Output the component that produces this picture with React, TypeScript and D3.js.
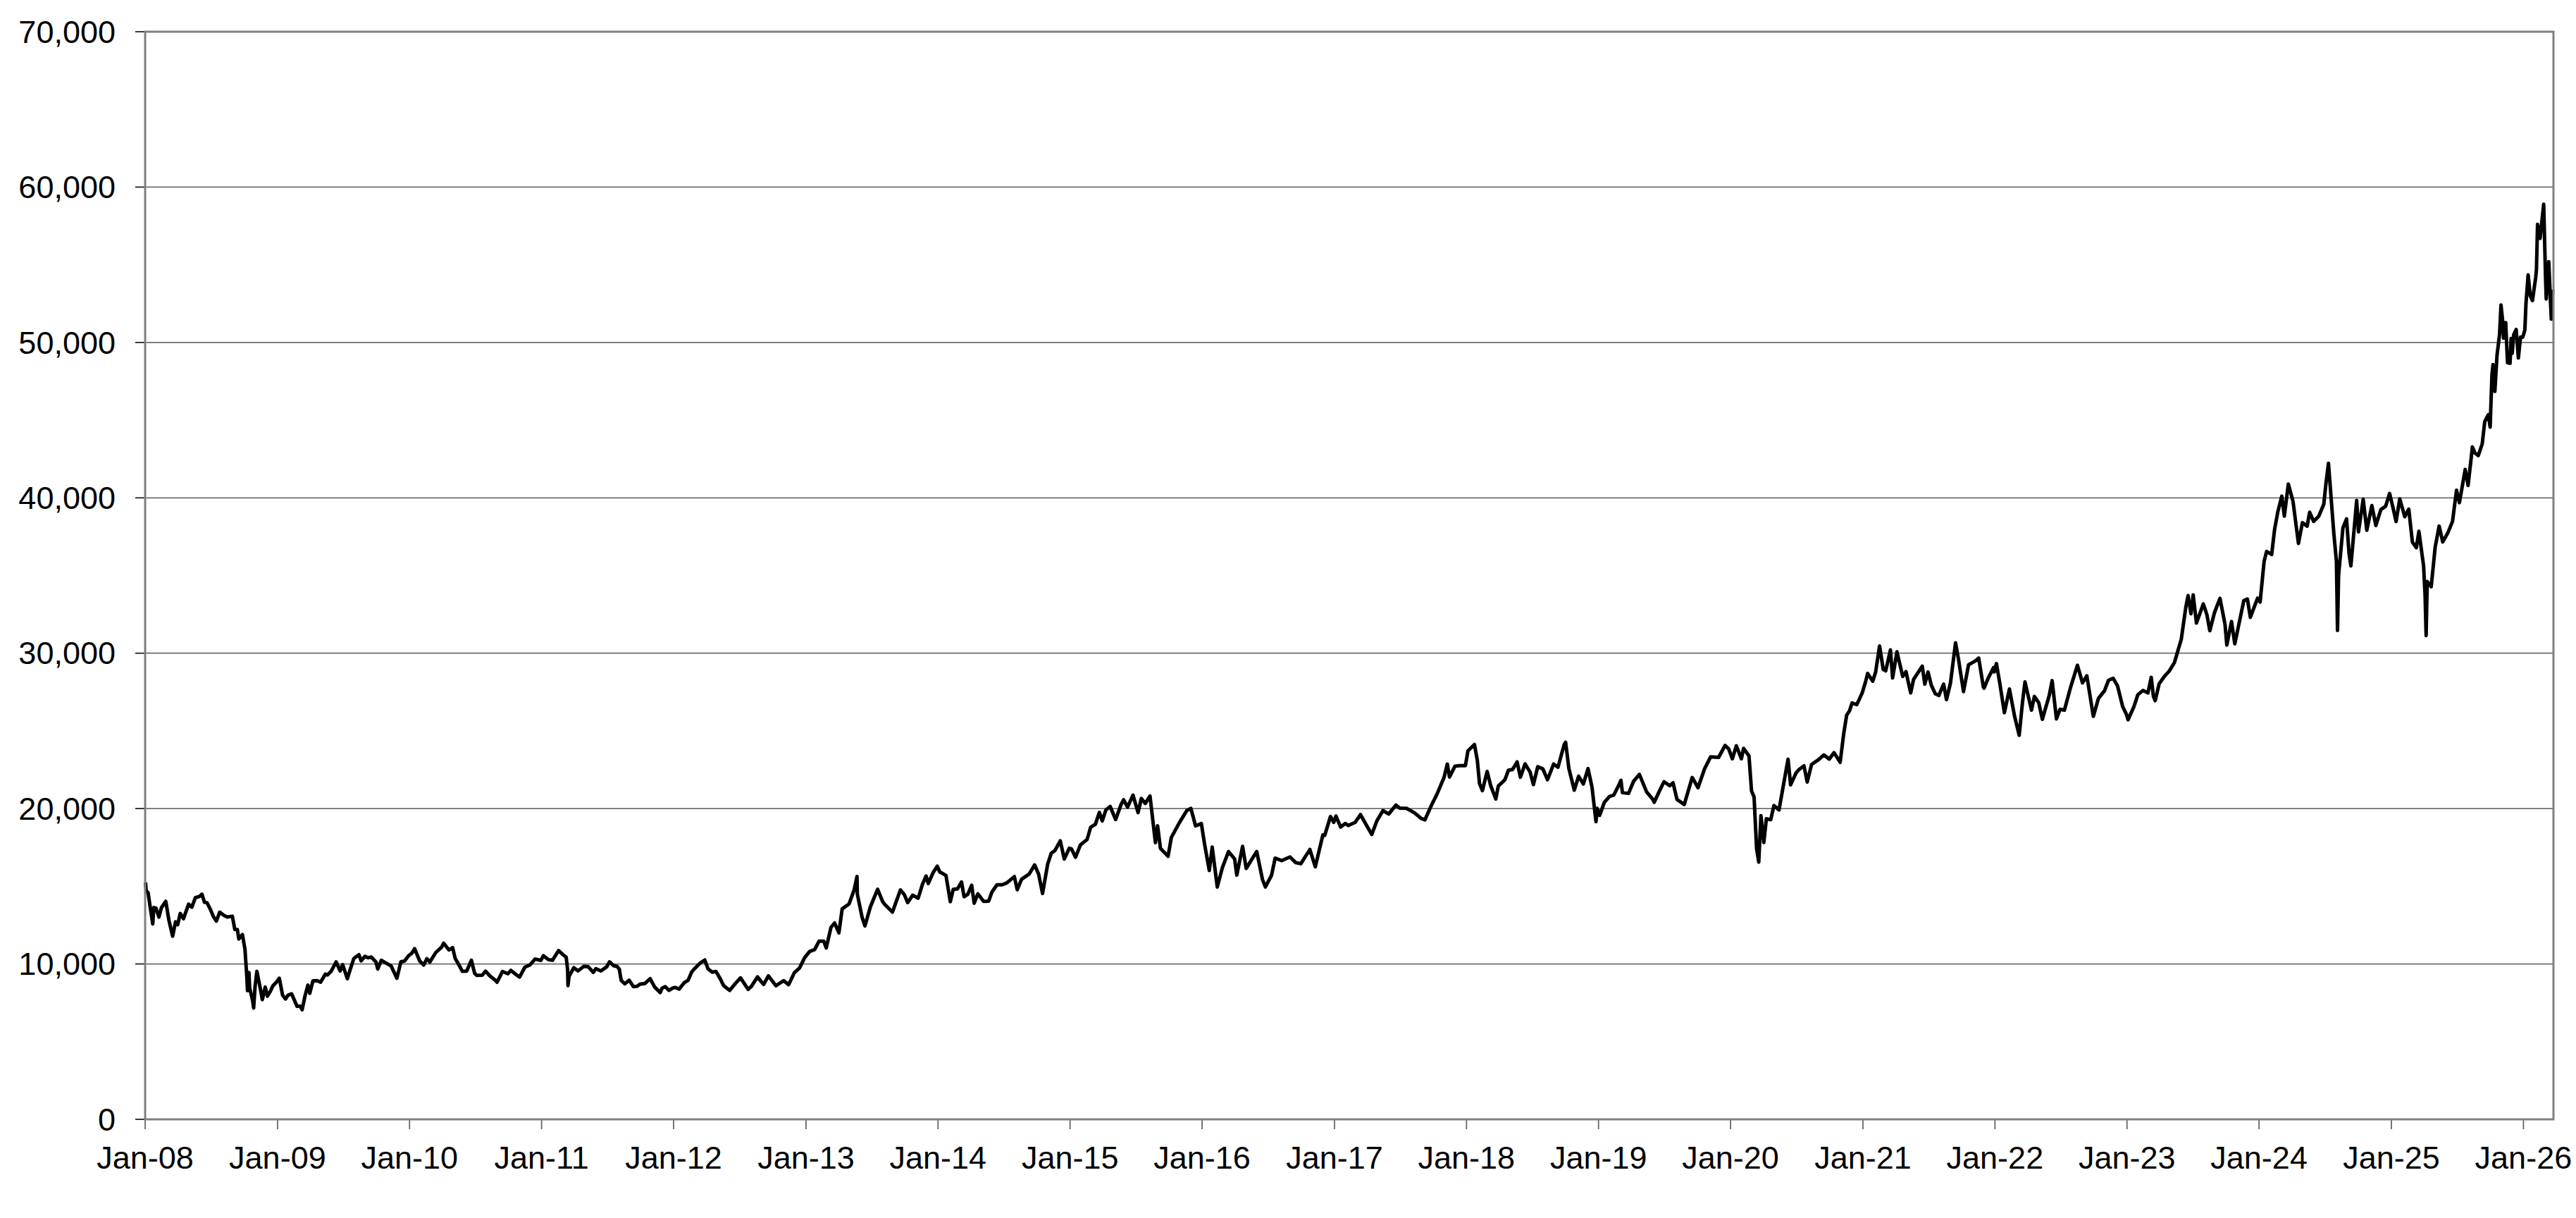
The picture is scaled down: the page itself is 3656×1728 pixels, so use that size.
// @ts-nocheck
import * as d3 from "d3";

// index closes, one list per year: [month-day, value]
const y2008 = [["01-02",15250],["01-04",14691],["01-09",14600],["01-16",13504],["01-22",12573],["01-25",13629],["01-31",13592],["02-08",13017],["02-15",13622],["02-27",14031],["03-07",12783],["03-17",11787],["03-25",12709],["03-31",12525],["04-07",13250],["04-16",12911],["04-30",13849],["05-09",13655],["05-19",14269],["05-30",14338],["06-06",14489],["06-13",13973],["06-20",13942],["06-30",13481],["07-08",13033],["07-16",12760],["07-25",13334],["08-06",13124],["08-15",13019],["08-29",13072],["09-05",12212],["09-12",12214],["09-16",11609],["09-26",11893],["10-03",10938],["10-08",9203],["10-10",8276],["10-14",9447],["10-16",8458],["10-24",7649],["10-27",7162],["10-31",8576],["11-05",9521],["11-14",8462],["11-20",7703],["11-28",8512],["12-04",7924],["12-12",8235],["12-19",8588],["12-30",8859]];
const y2009 = [["01-06",9080],["01-15",7982],["01-23",7745],["01-30",7994],["02-09",8077],["02-17",7645],["02-24",7268],["03-04",7290],["03-10",7054],["03-18",7945],["03-26",8636],["03-31",8109],["04-09",8917],["04-20",8924],["04-30",8828],["05-13",9340],["05-19",9290],["05-29",9523],["06-12",10135],["06-23",9549],["06-30",9958],["07-13",9050],["07-22",9723],["07-31",10357],["08-14",10598],["08-20",10205],["08-31",10492],["09-08",10393],["09-17",10443],["09-30",10133],["10-05",9674],["10-15",10238],["10-30",10034],["11-11",9872],["11-27",9081],["12-08",10140],["12-18",10183],["12-30",10546]];
const y2010 = [["01-07",10681],["01-15",10982],["01-29",10198],["02-09",9932],["02-18",10335],["02-26",10126],["03-15",10751],["03-31",11089],["04-05",11339],["04-20",10900],["04-30",11057],["05-07",10364],["05-21",9784],["05-27",9522],["06-08",9538],["06-21",10238],["06-30",9382],["07-06",9266],["07-21",9278],["07-30",9537],["08-12",9212],["08-24",8996],["08-31",8824],["09-15",9516],["09-30",9369],["10-08",9589],["10-19",9381],["11-01",9154],["11-16",9797],["11-30",9937],["12-14",10316],["12-30",10229]];
const y2011 = [["01-06",10529],["01-20",10274],["01-31",10237],["02-10",10606],["02-17",10857],["02-28",10624],["03-10",10434],["03-14",9620],["03-15",8605],["03-18",9206],["03-31",9755],["04-12",9555],["04-28",9849],["05-10",9819],["05-24",9460],["05-31",9693],["06-14",9547],["06-30",9816],["07-08",10137],["07-19",9889],["07-29",9833],["08-04",9659],["08-09",8944],["08-19",8719],["08-31",8955],["09-12",8535],["09-22",8560],["09-30",8700],["10-14",8747],["10-28",9050],["11-10",8500],["11-25",8160],["11-30",8434],["12-09",8536],["12-19",8296],["12-30",8455]];
const y2012 = [["01-05",8488],["01-16",8378],["01-31",8803],["02-10",8947],["02-20",9485],["02-29",9723],["03-14",10050],["03-27",10255],["04-05",9688],["04-17",9470],["04-27",9520],["05-09",9045],["05-18",8611],["06-04",8296],["06-20",8752],["07-04",9104],["07-25",8366],["08-03",8555],["08-20",9171],["08-31",8840],["09-06",8680],["09-19",9232],["10-10",8596],["10-31",8928],["11-14",8665],["11-30",9446],["12-14",9737],["12-28",10395]];
const y2013 = [["01-11",10801],["01-25",10926],["02-06",11463],["02-19",11468],["02-26",11028],["03-11",12349],["03-21",12635],["04-02",12003],["04-11",13549],["04-30",13861],["05-14",14758],["05-22",15627],["05-23",14484],["06-05",13014],["06-13",12445],["06-28",13677],["07-18",14808],["08-01",14005],["08-07",13825],["08-28",13338],["09-19",14766],["09-30",14456],["10-09",13949],["10-23",14426],["11-07",14229],["11-19",15127],["11-29",15662],["12-05",15178],["12-18",15859],["12-30",16291]];
const y2014 = [["01-06",15908],["01-15",15809],["01-23",15695],["02-04",14008],["02-12",14800],["02-24",14837],["03-07",15275],["03-14",14327],["03-24",14475],["04-04",15063],["04-11",13910],["04-21",14512],["05-07",14033],["05-21",14043],["05-30",14632],["06-13",15097],["06-27",15095],["07-10",15216],["07-31",15621],["08-08",14778],["08-20",15454],["09-10",15788],["09-25",16374],["10-06",15783],["10-17",14533],["10-31",16413],["11-10",17124],["11-20",17300],["12-05",17920],["12-16",16756],["12-30",17450]];
const y2015 = [["01-05",17408],["01-16",16864],["01-30",17674],["02-17",18004],["02-27",18798],["03-12",18991],["03-23",19754],["03-31",19207],["04-10",19908],["04-22",20134],["05-07",19292],["05-22",20264],["05-29",20563],["06-09",20096],["06-24",20868],["07-08",19738],["07-17",20650],["07-28",20328],["08-10",20808],["08-25",17806],["08-31",18890],["09-08",17427],["09-29",16931],["10-08",18141],["10-30",19083],["11-20",19880],["12-01",20012],["12-14",18883],["12-30",19034]];
const y2016 = [["01-08",17698],["01-21",16017],["01-29",17518],["02-12",14952],["02-26",16188],["03-14",17233],["03-31",16759],["04-06",15715],["04-22",17572],["05-02",16147],["05-31",17235],["06-16",15434],["06-24",14952],["07-11",15708],["07-21",16811],["08-08",16650],["08-31",16887],["09-16",16519],["09-30",16450],["10-25",17365],["11-09",16251],["11-30",18308],["12-05",18274],["12-21",19494],["12-30",19114]];
const y2017 = [["01-05",19520],["01-18",18813],["01-31",19041],["02-08",18908],["02-27",19107],["03-14",19609],["03-31",18909],["04-14",18335],["04-28",19197],["05-15",19869],["05-31",19651],["06-20",20230],["06-30",20033],["07-19",20020],["08-10",19729],["08-29",19362],["09-08",19274],["09-29",20356],["10-12",20954],["10-31",22012],["11-09",22868],["11-15",22028],["11-30",22725],["12-13",22758],["12-29",22765]];
const y2018 = [["01-05",23714],["01-23",24124],["01-31",23098],["02-06",21610],["02-14",21154],["02-27",22389],["03-09",21469],["03-23",20617],["03-30",21454],["04-17",21848],["04-27",22468],["05-08",22509],["05-21",23002],["05-30",22018],["06-12",22878],["06-26",22342],["07-05",21546],["07-17",22697],["07-31",22554],["08-13",21858],["08-30",22869],["09-11",22664],["09-28",24120],["10-02",24270],["10-11",22591],["10-26",21184],["11-07",22085],["11-20",21583],["12-03",22574],["12-14",21375],["12-25",19155],["12-28",20015]];
const y2019 = [["01-04",19562],["01-17",20402],["01-31",20773],["02-12",20864],["02-27",21556],["03-04",21822],["03-08",21025],["03-25",20977],["04-08",21761],["04-24",22200],["05-14",21067],["05-31",20601],["06-04",20408],["06-21",21258],["07-01",21729],["07-17",21469],["07-26",21658],["08-06",20585],["08-26",20261],["09-17",22001],["10-03",21341],["10-21",22548],["11-07",23330],["11-29",23294],["12-17",24066],["12-27",23837]];
const y2020 = [["01-06",23204],["01-17",24041],["01-31",23205],["02-06",23873],["02-21",23386],["02-28",21143],["03-06",20749],["03-13",17431],["03-19",16552],["03-25",19546],["04-02",17818],["04-09",19345],["04-21",19280],["04-30",20193],["05-14",19914],["05-29",21877],["06-08",23178],["06-15",21530],["06-30",22288],["07-09",22529],["07-22",22751],["07-31",21710],["08-12",22843],["08-31",23140],["09-15",23454],["09-30",23185],["10-13",23601],["10-30",22977],["11-09",24839],["11-17",26014],["11-25",26297],["12-02",26800],["12-15",26687],["12-30",27444]];
const y2021 = [["01-08",28139],["01-14",28698],["01-28",28197],["02-05",28779],["02-16",30467],["02-26",28966],["03-05",28864],["03-18",30216],["03-24",28405],["04-05",30089],["04-21",28508],["04-30",28812],["05-13",27448],["05-21",28317],["06-14",29161],["06-21",28010],["06-30",28791],["07-09",27940],["07-20",27388],["07-30",27283],["08-12",28015],["08-20",27013],["08-31",28089],["09-14",30670],["09-22",29639],["10-06",27528],["10-20",29255],["11-08",29507],["11-17",29688],["11-30",27821],["12-02",27753],["12-14",28432],["12-28",29069],["12-30",28791]];
const y2022 = [["01-05",29332],["01-14",28124],["01-27",26170],["02-10",27696],["02-24",25970],["03-09",24717],["03-18",26827],["03-25",28149],["04-12",26334],["04-20",27217],["05-02",26818],["05-12",25748],["05-31",27279],["06-08",28234],["06-20",25771],["06-30",26393],["07-12",26336],["07-29",27801],["08-17",29222],["08-31",28091],["09-12",28542],["09-30",25937],["10-14",27090],["10-31",27587],["11-11",28263],["11-24",28383],["12-06",27885],["12-20",26568],["12-30",26094]];
const y2023 = [["01-04",25716],["01-20",26553],["01-31",27327],["02-14",27602],["02-28",27445],["03-09",28444],["03-15",27229],["03-20",26945],["03-31",28041],["04-14",28493],["04-28",28856],["05-12",29388],["05-31",30887],["06-13",33018],["06-19",33706],["06-27",32538],["07-03",33753],["07-12",31943],["07-31",33172],["08-10",32473],["08-18",31450],["08-31",32619],["09-15",33533],["09-29",31857],["10-04",30526],["10-17",32040],["10-26",30601],["11-20",33388],["11-30",33486],["12-08",32307],["12-28",33539]];
const y2024 = [["01-04",33288],["01-15",35901],["01-22",36546],["02-05",36354],["02-13",37963],["02-22",39098],["03-04",40109],["03-11",38820],["03-22",40888],["04-04",39773],["04-19",37068],["04-30",38405],["05-13",38179],["05-20",39069],["05-31",38487],["06-14",38814],["06-28",39583],["07-04",40913],["07-11",42224],["07-26",37667],["08-02",35909],["08-05",31458],["08-08",35025],["08-20",38062],["08-30",38647],["09-06",36391],["09-11",35619],["09-27",39829],["10-02",37808],["10-15",39910],["10-25",37913],["11-08",39500],["11-19",38220],["12-03",39248],["12-16",39457],["12-27",40281]];
const y2025 = [["01-06",39307],["01-14",38474],["01-24",39931],["02-07",38787],["02-18",39270],["02-28",37155],["03-11",36793],["03-18",37845],["03-31",35617],["04-04",33780],["04-07",31136],["04-10",34609],["04-21",34279],["05-02",36830],["05-13",38183],["05-23",37160],["06-06",37741],["06-19",38488],["06-30",40487],["07-08",39688],["07-24",41826],["08-01",40799],["08-13",43274],["08-20",42888],["08-29",42718],["09-09",43459],["09-16",44902],["09-26",45354],["10-01",44550],["10-06",47944],["10-09",48580],["10-14",46847],["10-20",49185],["10-27",50512],["10-31",52411],["11-04",51497],["11-07",50276],["11-13",51281],["11-18",48702],["11-25",48659],["11-28",50253],["12-01",49303],["12-05",50491],["12-12",50836],["12-18",49001],["12-24",50344],["12-30",50339]];
const y2026 = [["01-05",50800],["01-08",52500],["01-14",54350],["01-20",52990],["01-26",52700],["02-04",54200],["02-06",54700],["02-09",57600],["02-16",56700],["02-26",58900],["03-03",54300],["03-05",52800],["03-12",55200],["03-19",51500],["03-23",53400]];

const years = { 2008: y2008, 2009: y2009, 2010: y2010, 2011: y2011, 2012: y2012, 2013: y2013, 2014: y2014, 2015: y2015, 2016: y2016, 2017: y2017, 2018: y2018, 2019: y2019, 2020: y2020, 2021: y2021, 2022: y2022, 2023: y2023, 2024: y2024, 2025: y2025, 2026: y2026 };

const yTicks = [0, 10000, 20000, 30000, 40000, 50000, 60000, 70000];
const startDate = "2008-01-01";
const endDate = "2026-03-25";

const parse = d3.timeParse("%Y-%m-%d");
const series = Object.entries(years).flatMap(([yr, rows]) =>
  rows.map(([md, v]) => ({ date: parse(`${yr}-${md}`), value: v }))
);

const W = 3656;
const H = 1728;
const left = 206, right = 3624, top = 45, bottom = 1588;
const font = "'Liberation Sans', Arial, sans-serif";

export default function App() {
  const x = d3.scaleTime([parse(startDate), parse(endDate)], [left, right]);
  const y = d3.scaleLinear([0, 70000], [bottom, top]);

  const line = d3.line()
    .x(d => x(d.date))
    .y(d => y(d.value));

  const xTicks = d3.timeYear.range(parse(startDate), parse(endDate));
  const fmtX = d3.timeFormat("Jan-%y");
  const fmtY = d3.format(",");

  return (
    <svg width={W} height={H} style={{ position: "absolute", left: 0, top: 0, background: "#fff" }}>
      <rect x={0} y={0} width={W} height={H} fill="#fff" />
      {/* gridlines */}
      {yTicks.filter(t => t > 0 && t < 70000).map(t => (
        <line key={t} x1={left} x2={right} y1={y(t)} y2={y(t)} stroke="#6e6e6e" strokeWidth={1.8} />
      ))}
      {/* y ticks and labels */}
      {yTicks.map(t => (
        <g key={t}>
          <line x1={left - 14} x2={left} y1={y(t)} y2={y(t)} stroke="#222" strokeWidth={1.8} />
          <text x={164} y={y(t)} dy="0.35em" textAnchor="end" fontFamily={font} fontSize={45} fill="#000">{fmtY(t)}</text>
        </g>
      ))}
      {/* x ticks and labels */}
      {xTicks.map(t => (
        <g key={+t}>
          <line x1={x(t)} x2={x(t)} y1={bottom} y2={bottom + 14} stroke="#666" strokeWidth={1.8} />
          <text x={x(t)} y={1658} textAnchor="middle" fontFamily={font} fontSize={45} fill="#000">{fmtX(t)}</text>
        </g>
      ))}
      {/* series */}
      <path d={line(series)} fill="none" stroke="#000" strokeWidth={5} strokeLinejoin="round" />
      {/* plot border */}
      <rect x={left} y={top} width={right - left} height={bottom - top} fill="none" stroke="#808080" strokeWidth={3} />
    </svg>
  );
}
